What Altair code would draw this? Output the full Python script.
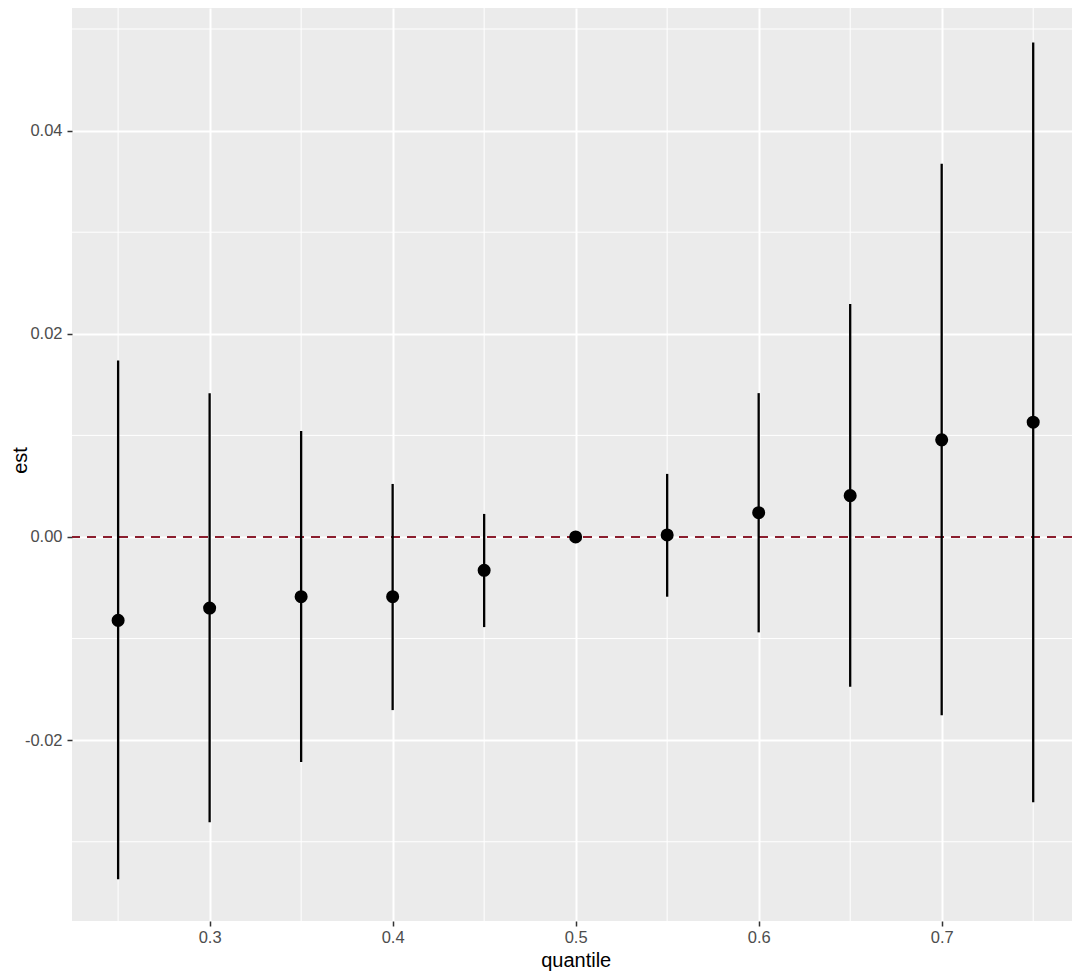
import altair as alt
import pandas as pd

# ---- data ----
quantile = [0.25, 0.30, 0.35, 0.40, 0.45, 0.50, 0.55, 0.60, 0.65, 0.70, 0.75]
est = [-0.00821, -0.00700, -0.00588, -0.00588, -0.00328, 0.0, 0.00020, 0.00239, 0.00407, 0.00956, 0.01130]
lower = [-0.03369, -0.02808, -0.02214, -0.01704, -0.00887, 0.0, -0.00588, -0.00939, -0.01475, -0.01754, -0.02611]
upper = [0.01737, 0.01416, 0.01044, 0.00522, 0.00227, 0.0, 0.00621, 0.01416, 0.02293, 0.03675, 0.04867]

x_major = [0.3, 0.4, 0.5, 0.6, 0.7]
x_minor = [0.25, 0.35, 0.45, 0.55, 0.65, 0.75]
y_major = [-0.02, 0.0, 0.02, 0.04]
y_minor = [-0.03, -0.01, 0.01, 0.03, 0.05]
ref_line = [0.0]

df = pd.DataFrame({"quantile": quantile, "est": est, "lower": lower, "upper": upper})
df_xminor = pd.DataFrame({"quantile": x_minor})
df_yminor = pd.DataFrame({"est": y_minor})
df_ref = pd.DataFrame({"est": ref_line})

FONT = "Liberation Sans"

xscale = alt.Scale(domain=[0.2248, 0.7712], nice=False, zero=False)
yscale = alt.Scale(domain=[-0.0378, 0.05207], nice=False, zero=False)

xaxis = alt.Axis(
    values=x_major, format=".1f", grid=True, gridColor="white", gridWidth=2,
    domain=False, ticks=True, tickColor="#333333", tickSize=5, tickWidth=1.5,
    labelFont=FONT, labelFontSize=16.5, labelColor="#4D4D4D", labelPadding=3,
    labelBaseline="top", labelFlush=False, labelOverlap=False,
    title="quantile", titleFont=FONT, titleFontSize=20, titleFontWeight="normal",
    titleColor="black", titleX=503.7, titleY=45, titleBaseline="alphabetic", titleAlign="center",
)
yaxis = alt.Axis(
    values=y_major, grid=True, gridColor="white", gridWidth=2,
    labelExpr="datum.value < 0 ? '-' + format(abs(datum.value), '.2f') : format(datum.value, '.2f')",
    domain=False, ticks=True, tickColor="#333333", tickSize=5, tickWidth=1.5,
    labelFont=FONT, labelFontSize=16.5, labelColor="#4D4D4D", labelPadding=5,
    labelFlush=False, labelOverlap=False,
    title="est", titleFont=FONT, titleFontSize=20, titleFontWeight="normal",
    titleColor="black", titleX=-46, titleY=452, titleAngle=270,
    titleBaseline="alphabetic", titleAlign="center",
)

x_enc = alt.X("quantile:Q", scale=xscale, axis=xaxis)
y_enc = alt.Y("est:Q", scale=yscale, axis=yaxis)

minor_x = alt.Chart(df_xminor).mark_rule(color="white", strokeWidth=1).encode(x=x_enc)
minor_y = alt.Chart(df_yminor).mark_rule(color="white", strokeWidth=1).encode(y=y_enc)

ref = alt.Chart(df_ref).mark_rule(color="#8B1E2E", strokeWidth=2, strokeDash=[9, 7]).encode(y=y_enc)

bars = alt.Chart(df).mark_rule(color="black", strokeWidth=2.3).encode(
    x=x_enc,
    y=alt.Y("lower:Q", scale=yscale, axis=yaxis),
    y2="upper:Q",
)

points = alt.Chart(df).mark_circle(color="black", size=170, opacity=1).encode(x=x_enc, y=y_enc)

chart = alt.layer(minor_x, minor_y, ref, bars, points).properties(
    width=1000,
    height=913,
    autosize=alt.AutoSizeParams(type="none"),
    padding={"left": 64, "top": 0, "right": 0, "bottom": 50},
    background="white",
).configure_view(fill="#EBEBEB", strokeWidth=0)

chart.save("out.html", embed_options={"renderer": "svg", "actions": False})
